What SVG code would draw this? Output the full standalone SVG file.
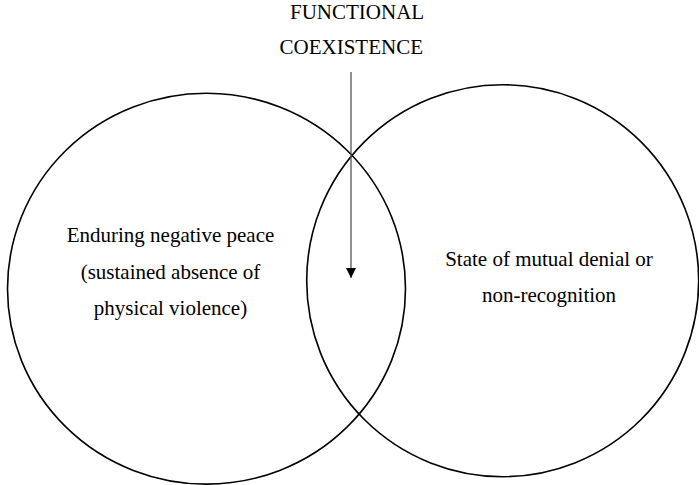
<svg xmlns="http://www.w3.org/2000/svg" width="699" height="485" viewBox="0 0 699 485">
<style>
.c{fill:none;stroke:#000;stroke-width:1.6}
text{font-family:'Liberation Serif','DejaVu Serif',serif;font-size:21px;fill:#000}
.m{text-anchor:middle}
.a{stroke:#555;stroke-width:1.3;fill:none}
</style>
<defs>
<marker id="ah" viewBox="0 0 10 10" refX="10" refY="5" markerWidth="10" markerHeight="10" markerUnits="userSpaceOnUse" orient="auto">
<path d="M0,0 L10,5 L0,10 Z" fill="#000"/>
</marker>
</defs>
<rect width="699" height="485" fill="#fff"/>
<g id="label-functional-coexistence" font-family="Liberation Serif, serif">
<text x="290" y="19">FUNCTIONAL</text>
<text x="279.5" y="54">COEXISTENCE</text>
</g>
<g id="node-negative-peace" font-family="Liberation Serif, serif">
<ellipse class="c" cx="206.5" cy="288.7" rx="199" ry="195.4"/>
<text class="m" x="170.5" y="242">Enduring negative peace</text>
<text class="m" x="170.5" y="278.5">(sustained absence of</text>
<text class="m" x="170.5" y="315">physical violence)</text>
</g>
<g id="node-mutual-denial" font-family="Liberation Serif, serif">
<ellipse class="c" cx="502.7" cy="280.7" rx="196" ry="196"/>
<text class="m" x="549" y="265.5">State of mutual denial or</text>
<text class="m" x="549" y="302">non-recognition</text>
</g>
<g id="connectors">
<line class="a" x1="351" y1="72" x2="351" y2="278" marker-end="url(#ah)"/>
</g>
</svg>
